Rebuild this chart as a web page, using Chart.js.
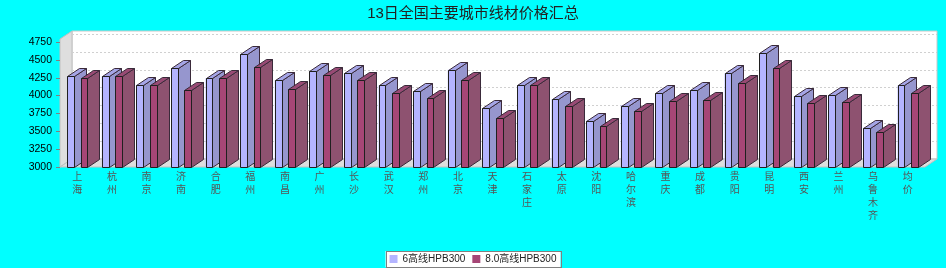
<!DOCTYPE html>
<html>
<head>
<meta charset="utf-8">
<script src="https://cdn.jsdelivr.net/npm/chart.js@4.4.0/dist/chart.umd.min.js"></script>
<style>
    html, body { margin: 0; padding: 0; background: #00ffff; }
    #wrap { width: 946px; height: 268px; }
</style>
</head>
<body>
<div id="wrap"><canvas id="canvas" width="946" height="268"></canvas></div>
<script>
var cities = ['上海', '杭州', '南京', '济南', '合肥', '福州', '南昌', '广州', '长沙', '武汉', '郑州', '北京',
    '天津', '石家庄', '太原', '沈阳', '哈尔滨', '重庆', '成都', '贵阳', '昆明', '西安', '兰州', '乌鲁木齐', '均价'];
var wire6 = [4270, 4270, 4150, 4380, 4240, 4580, 4210, 4340, 4310, 4140, 4060, 4360,
    3820, 4140, 3950, 3650, 3860, 4030, 4070, 4310, 4590, 3990, 4000, 3550, 4140];
var wire8 = [4240, 4270, 4150, 4080, 4240, 4400, 4090, 4280, 4210, 4040, 3970, 4210,
    3690, 4140, 3860, 3580, 3790, 3920, 3930, 4170, 4380, 3890, 3910, 3490, 4040];
var tickValues = [3000, 3250, 3500, 3750, 4000, 4250, 4500, 4750];

var FONT = "'Liberation Sans', 'Noto Sans CJK SC', sans-serif";
var DX = 12, DY = 8;

// face colours: front, side, top
var shades = [
    {front: 'rgb(180,180,255)', side: 'rgb(150,150,206)', top: 'rgb(165,165,230)'},
    {front: 'rgb(166,70,118)', side: 'rgb(142,82,112)', top: 'rgb(152,74,116)'}
];

function poly(ctx, pts, fill, stroke) {
    ctx.beginPath();
    ctx.moveTo(pts[0][0], pts[0][1]);
    for (var i = 1; i < pts.length; i++) ctx.lineTo(pts[i][0], pts[i][1]);
    ctx.closePath();
    if (fill) { ctx.fillStyle = fill; ctx.fill(); }
    if (stroke) { ctx.strokeStyle = stroke; ctx.stroke(); }
}

var bars3d = {
    id: 'bars3d',
    beforeDraw: function(chart) {
        var ctx = chart.ctx;
        ctx.save();
        ctx.fillStyle = '#00ffff';
        ctx.fillRect(0, 0, chart.width, chart.height);
        // legend frame
        var boxes = chart.legend.legendHitBoxes;
        if (boxes && boxes.length) {
            var first = boxes[0], last = boxes[boxes.length - 1];
            var x0 = first.left - 4, x1 = last.left + last.width + 4;
            var y0 = first.top - 3, y1 = first.top + first.height + 3;
            ctx.fillStyle = '#ffffff';
            ctx.fillRect(x0, y0, x1 - x0, y1 - y0);
            ctx.strokeStyle = '#808080';
            ctx.lineWidth = 1;
            ctx.strokeRect(Math.round(x0) + 0.5, Math.round(y0) + 0.5, Math.round(x1 - x0), Math.round(y1 - y0));
        }
        ctx.restore();
    },
    beforeDatasetsDraw: function(chart) {
        var ctx = chart.ctx, a = chart.chartArea, ys = chart.scales.y;
        ctx.save();
        ctx.lineWidth = 1;
        // back wall
        poly(ctx, [[a.left + DX, a.top - DY], [a.right + DX, a.top - DY], [a.right + DX, a.bottom - DY], [a.left + DX, a.bottom - DY]], '#ffffff', '#c8c8c8');
        // left wall and floor
        poly(ctx, [[a.left, a.top], [a.left + DX, a.top - DY], [a.left + DX, a.bottom - DY], [a.left, a.bottom]], '#dedede', '#c0c0c0');
        poly(ctx, [[a.left, a.bottom], [a.left + DX, a.bottom - DY], [a.right + DX, a.bottom - DY], [a.right, a.bottom]], '#dedede', '#c0c0c0');
        // dashed grid on the back wall
        ctx.setLineDash([2, 2]);
        ctx.strokeStyle = '#d0d0d0';
        tickValues.forEach(function(v) {
            if (v === tickValues[0]) return;
            var y = Math.round(ys.getPixelForValue(v) - DY) + 0.5;
            ctx.beginPath();
            ctx.moveTo(a.left + DX, y);
            ctx.lineTo(a.right + DX, y);
            ctx.stroke();
        });
        ctx.setLineDash([]);
        // little ticks on the front axis
        ctx.strokeStyle = '#808080';
        tickValues.forEach(function(v) {
            var y = Math.round(ys.getPixelForValue(v)) + 0.5;
            ctx.beginPath();
            ctx.moveTo(a.left - 4, y);
            ctx.lineTo(a.left, y);
            ctx.stroke();
        });
        ctx.restore();
    },
    afterDatasetsDraw: function(chart) {
        var ctx = chart.ctx;
        ctx.save();
        ctx.lineWidth = 1;
        ctx.lineJoin = 'round';
        var n = chart.data.labels.length;
        for (var i = 0; i < n; i++) {
            for (var d = 0; d < chart.data.datasets.length; d++) {
                var el = chart.getDatasetMeta(d).data[i];
                if (!el) continue;
                var p = el.getProps(['x', 'y', 'base', 'width'], true);
                var l = Math.round(p.x - p.width / 2) + 0.5, r = Math.round(p.x + p.width / 2) + 0.5;
                var t = Math.round(p.y) + 0.5, b = Math.round(p.base) + 0.5;
                var c = shades[d];
                poly(ctx, [[r, t], [r + DX, t - DY], [r + DX, b - DY], [r, b]], c.side, '#3a2a3a');
                poly(ctx, [[l, t], [l + DX, t - DY], [r + DX, t - DY], [r, t]], c.top, '#3a2a3a');
                poly(ctx, [[l, t], [r, t], [r, b], [l, b]], c.front, '#202020');
            }
        }
        ctx.restore();
    }
};

var config = {
    type: 'bar',
    data: {
        labels: cities.map(function(c) { return c.split(''); }),
        datasets: [{
            label: '6高线HPB300',
            data: wire6,
            base: 3000,
            backgroundColor: shades[0].front,
            borderWidth: 0
        }, {
            label: '8.0高线HPB300',
            data: wire8,
            base: 3000,
            backgroundColor: shades[1].front,
            borderWidth: 0
        }]
    },
    options: {
        responsive: false,
        animation: false,
        layout: {padding: {left: 0, right: 0, top: 0, bottom: -6}},
        datasets: {
            bar: {categoryPercentage: 0.78, barPercentage: 0.5}
        },
        plugins: {
            title: {
                display: true,
                text: '13日全国主要城市线材价格汇总',
                color: '#222',
                font: {family: FONT, size: 15, weight: 'normal', lineHeight: 1.2},
                padding: {top: 5, bottom: 16}
            },
            legend: {
                position: 'bottom',
                labels: {
                    color: '#222',
                    font: {family: FONT, size: 10},
                    boxWidth: 8,
                    boxHeight: 8,
                    padding: 7
                }
            },
            tooltip: {enabled: false}
        },
        scales: {
            x: {
                grid: {display: false, drawTicks: false},
                border: {display: false},
                ticks: {
                    color: '#555',
                    font: {family: FONT, size: 10, lineHeight: 1.3},
                    padding: 4,
                    maxRotation: 0,
                    autoSkip: false
                },
                afterFit: function(scale) { scale.height = 80; }
            },
            y: {
                min: 3000,
                max: 4790,
                grid: {display: false, drawTicks: false},
                border: {display: false},
                ticks: {
                    color: '#000',
                    font: {family: FONT, size: 10.5},
                    padding: 8,
                    callback: function(v) { return String(v); }
                },
                afterBuildTicks: function(scale) {
                    scale.ticks = tickValues.map(function(v) { return {value: v}; });
                },
                afterFit: function(scale) { scale.width = 60; }
            },
            // empty right axis: keeps room for the 3D depth without shifting the title
            yRight: {
                position: 'right',
                grid: {display: false, drawTicks: false},
                border: {display: false},
                ticks: {display: false},
                afterFit: function(scale) { scale.width = 21; }
            }
        }
    },
    plugins: [bars3d]
};

window.onload = function() {
    window.myBar = new Chart(document.getElementById('canvas'), config);
};
</script>
</body>
</html>
